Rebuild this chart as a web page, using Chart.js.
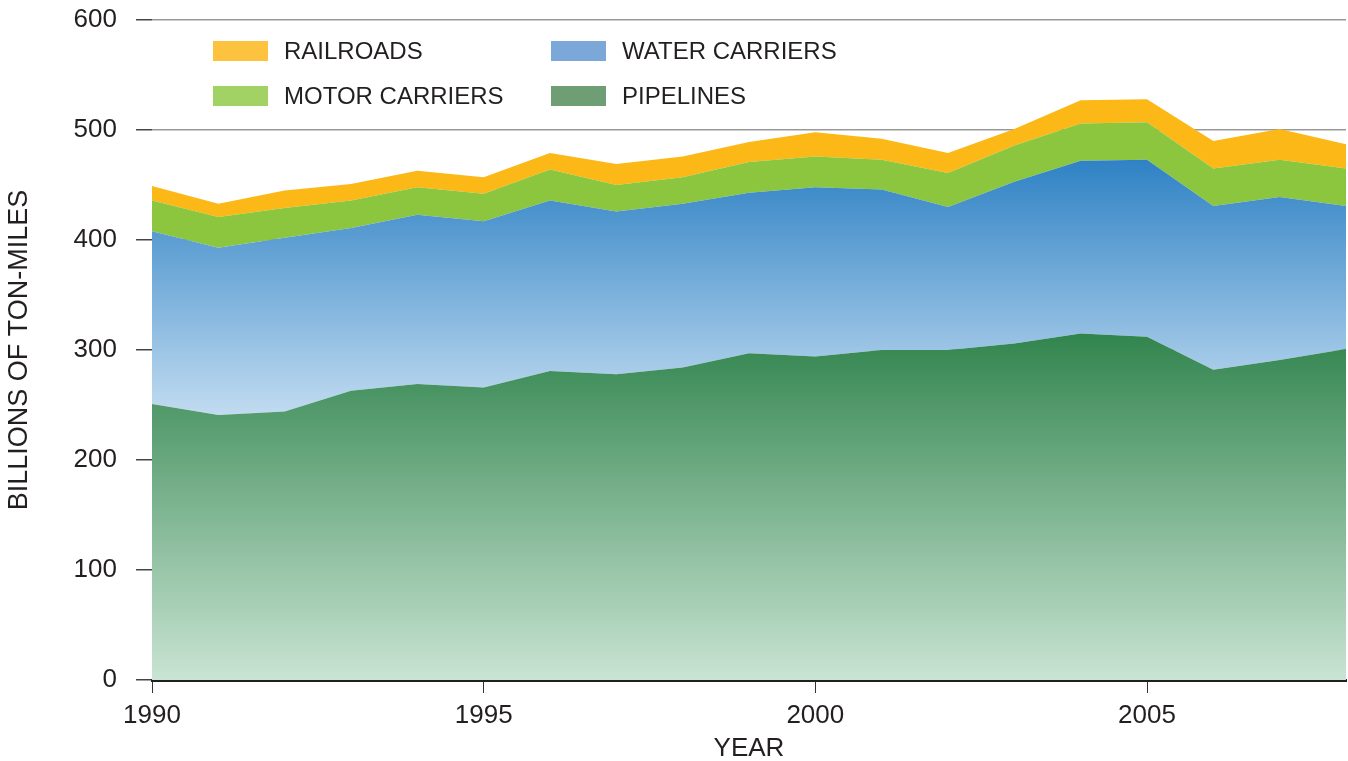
<!DOCTYPE html>
<html>
<head>
<meta charset="utf-8">
<title>Freight ton-miles by mode</title>
<script src="https://cdn.jsdelivr.net/npm/chart.js@4"></script>
<style>
  html, body { margin: 0; padding: 0; background: #fff; }
  #wrap { position: relative; width: 1348px; height: 761px; }
  #legend { position: absolute; left: 0; top: 0; font-family: "Liberation Sans", Arial, sans-serif; font-size: 24px; color: #231f20; }
  .item { position: absolute; height: 20px; white-space: nowrap; }
  .swatch { position: absolute; left: 0; top: 0; width: 55px; height: 20px; }
  .label { position: absolute; left: 71px; top: -4px; line-height: 28px; }
</style>
</head>
<body>
<div id="wrap">
  <canvas id="freight-chart" width="1348" height="761"></canvas>
  <div id="legend"></div>
</div>
<script>
// Ton-miles by mode, billions
const years = [1990, 1991, 1992, 1993, 1994, 1995, 1996, 1997, 1998, 1999,
               2000, 2001, 2002, 2003, 2004, 2005, 2006, 2007, 2008];
const pipelines     = [251, 241, 244, 263, 269, 266, 281, 278, 284, 297, 294, 300, 300, 306, 315, 312, 282, 291, 301];
const waterCarriers = [157, 152, 158, 148, 154, 151, 155, 148, 149, 146, 154, 146, 130, 147, 157, 161, 149, 148, 130];
const motorCarriers = [28, 28, 27, 25, 25, 25, 28, 24, 24, 28, 28, 27, 31, 33, 34, 34, 34, 34, 34];
const railroads     = [13, 12, 16, 15, 15, 15, 15, 19, 19, 18, 22, 19, 18, 15, 21, 21, 25, 28, 22];

const xTickYears = [1990, 1995, 2000, 2005];
const yTicks = [0, 100, 200, 300, 400, 500, 600];

const textColor = '#231f20';
const fontFamily = "'Liberation Sans', Arial, sans-serif";

// Vertical gradient between two data values on the y scale
function valueGradient(context, topValue, bottomValue, topColor, bottomColor) {
    const chart = context.chart;
    const yScale = chart.scales.y;
    if (!chart.chartArea || !yScale) return topColor;
    const g = chart.ctx.createLinearGradient(0, yScale.getPixelForValue(topValue), 0, yScale.getPixelForValue(bottomValue));
    g.addColorStop(0, topColor);
    g.addColorStop(1, bottomColor);
    return g;
}

function toPoints(values) {
    return values.map((v, i) => ({ x: years[i], y: v }));
}

// Stacked bottom-up: pipelines, water, motor, rail
const datasets = [
    {
        label: 'PIPELINES',
        data: toPoints(pipelines),
        fill: 'origin',
        backgroundColor: ctx => valueGradient(ctx, 330, 0, '#2a8048', '#c9e4d3'),
        legendColor: '#6f9e74'
    },
    {
        label: 'WATER CARRIERS',
        data: toPoints(waterCarriers),
        fill: '-1',
        backgroundColor: ctx => valueGradient(ctx, 480, 240, '#2a7fc3', '#c2dcf1'),
        legendColor: '#7ba7d9'
    },
    {
        label: 'MOTOR CARRIERS',
        data: toPoints(motorCarriers),
        fill: '-1',
        backgroundColor: '#8cc63f',
        legendColor: '#a2d264'
    },
    {
        label: 'RAILROADS',
        data: toPoints(railroads),
        fill: '-1',
        backgroundColor: '#fbb817',
        legendColor: '#fdc33f'
    }
];

datasets.forEach(ds => {
    ds.borderWidth = 0;
    ds.pointRadius = 0;
    ds.tension = 0;
});

new Chart(document.getElementById('freight-chart').getContext('2d'), {
    type: 'line',
    data: { datasets: datasets },
    options: {
        responsive: false,
        devicePixelRatio: 1,
        animation: false,
        layout: { padding: { top: 20, right: 2, left: 0, bottom: 0 } },
        plugins: {
            legend: { display: false },
            tooltip: { enabled: false }
        },
        scales: {
            x: {
                type: 'linear',
                min: 1990,
                max: 2008,
                afterBuildTicks: scale => {
                    scale.ticks = xTickYears.map(v => ({ value: v }));
                },
                afterFit: scale => {
                    scale.height = 81;
                    scale.paddingLeft = 0;
                    scale.paddingRight = 0;
                },
                grid: {
                    drawOnChartArea: false,
                    drawTicks: true,
                    tickLength: 13,
                    tickColor: '#333333',
                    tickWidth: 1
                },
                border: { display: true, color: '#231f20', width: 3 },
                ticks: {
                    color: textColor,
                    font: { family: fontFamily, size: 26 },
                    padding: 7,
                    maxRotation: 0,
                    callback: v => String(v)
                },
                title: {
                    display: true,
                    text: 'YEAR',
                    color: textColor,
                    font: { family: fontFamily, size: 26 },
                    padding: { top: 0, bottom: -3 }
                }
            },
            y: {
                stacked: true,
                min: 0,
                max: 600,
                afterBuildTicks: scale => {
                    scale.ticks = yTicks.map(v => ({ value: v }));
                },
                afterFit: scale => {
                    scale.width = 152;
                    scale.paddingTop = 0;
                    scale.paddingBottom = 0;
                },
                grid: {
                    color: '#999999',
                    lineWidth: 1.5,
                    tickLength: 16,
                    tickColor: '#444444',
                    tickWidth: 1.5
                },
                border: { display: false },
                ticks: {
                    color: textColor,
                    font: { family: fontFamily, size: 26 },
                    padding: 19
                },
                title: {
                    display: true,
                    text: 'BILLIONS OF TON-MILES',
                    color: textColor,
                    font: { family: fontFamily, size: 27 },
                    padding: { top: 3, bottom: 0 }
                }
            }
        }
    }
});

// Two-column legend: railroads / water on the first row, motor / pipelines on the second
const legendOrder = ['RAILROADS', 'WATER CARRIERS', 'MOTOR CARRIERS', 'PIPELINES'];
const legendCols = [213, 551];
const legendRows = [41, 86];
const legendEl = document.getElementById('legend');
legendOrder.forEach((name, i) => {
    const ds = datasets.find(d => d.label === name);
    const item = document.createElement('div');
    item.className = 'item';
    item.style.left = legendCols[i % 2] + 'px';
    item.style.top = legendRows[Math.floor(i / 2)] + 'px';
    const sw = document.createElement('span');
    sw.className = 'swatch';
    sw.style.background = ds.legendColor;
    const lb = document.createElement('span');
    lb.className = 'label';
    lb.textContent = name;
    item.appendChild(sw);
    item.appendChild(lb);
    legendEl.appendChild(item);
});
</script>
</body>
</html>
